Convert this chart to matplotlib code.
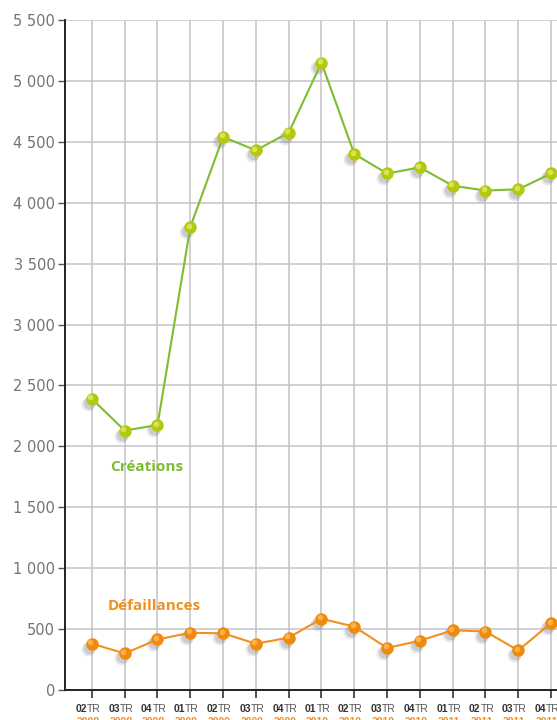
import matplotlib
matplotlib.use("Agg")
import matplotlib.pyplot as plt
from matplotlib.transforms import blended_transform_factory, offset_copy

quarters = ["02", "03", "04", "01", "02", "03", "04", "01",
            "02", "03", "04", "01", "02", "03", "04"]
years = ["2008", "2008", "2008", "2009", "2009", "2009", "2009", "2010",
         "2010", "2010", "2010", "2011", "2011", "2011", "2011"]
creations = [2390, 2130, 2175, 3800, 4540, 4430, 4575, 5150,
             4400, 4240, 4290, 4140, 4100, 4110, 4240]
defaillances = [380, 300, 415, 470, 465, 380, 430, 585,
                520, 345, 405, 490, 480, 325, 550]
yticks = [0, 500, 1000, 1500, 2000, 2500, 3000, 3500, 4000, 4500, 5000, 5500]

W, H = 557, 720
fig = plt.figure(figsize=(W / 100, H / 100), dpi=100)
ax = fig.add_axes([65 / W, 30 / H, (W - 65) / W, 670 / H])

x = list(range(len(quarters)))
ax.set_xlim(-0.82, 14.18)
ax.set_ylim(0, 5500)

ax.set_xticks(x)
ax.set_xticklabels([])
ax.set_yticks(yticks)
ax.set_yticklabels([f"{v:,}".replace(",", " ") for v in yticks])
ax.grid(True, color="#c4c4c8", linewidth=1.1)
ax.set_axisbelow(True)
for s in ("top", "right"):
    ax.spines[s].set_visible(False)
for s in ("left", "bottom"):
    ax.spines[s].set_color("#222222")
    ax.spines[s].set_linewidth(1.4)
ax.tick_params(axis="y", length=5, width=1, color="#555555",
               labelsize=10.5, labelcolor="#747474", pad=2)
ax.tick_params(axis="x", length=6, width=1.2, color="#333333")


def series(vals, line_c, face_c, hi_c):
    # soft shadow, line, glossy ball
    for dx, dy, ms, a in ((-4, -5, 10, 0.18), (-3, -4, 8.5, 0.3)):
        sh = offset_copy(ax.transData, fig=fig, x=dx, y=dy, units="dots")
        ax.plot(x, vals, "o", ms=ms, color="#8a8a92", alpha=a, mec="none",
                transform=sh, zorder=3)
    ax.plot(x, vals, color=line_c, lw=1.5, zorder=4)
    ax.plot(x, vals, "o", ms=9, color=face_c, mec="none", zorder=5)
    hl = offset_copy(ax.transData, fig=fig, x=-1.5, y=1.5, units="dots")
    ax.plot(x, vals, "o", ms=4, color=hi_c, mec="none", alpha=0.75,
            transform=hl, zorder=6)


series(creations, "#7cbd32", "#b4c812", "#e4ee70")
series(defaillances, "#f2901e", "#ee8a10", "#ffc060")

ax.text(1.68, 1830, "Créations", color="#7cbd32", fontsize=11,
        fontweight="bold", family="Open Sans", ha="center", va="center")
ax.text(1.9, 690, "Défaillances", color="#f2901e", fontsize=11,
        fontweight="bold", family="Open Sans", ha="center", va="center")

tr = blended_transform_factory(ax.transData, fig.transFigure)
for i, (q, yr) in enumerate(zip(quarters, years)):
    t = offset_copy(tr, fig=fig, x=-5, y=0, units="dots")
    ax.text(i, 1 - 709 / H, q, transform=t, ha="right", va="center",
            fontsize=7.5, fontweight="bold", color="#333333",
            family="Liberation Sans", clip_on=False)
    ax.text(i, 1 - 709 / H, "TR", transform=t, ha="left", va="center",
            fontsize=7.5, color="#555555", family="Liberation Sans",
            clip_on=False)
    ax.text(i, 1 - 722 / H, yr, transform=offset_copy(tr, fig=fig, x=-4, y=0,
            units="dots"), ha="center", va="center", fontsize=7.5,
            fontweight="bold", color="#f2901e", family="Liberation Sans",
            clip_on=False)

fig.savefig("out.png", dpi=100)
